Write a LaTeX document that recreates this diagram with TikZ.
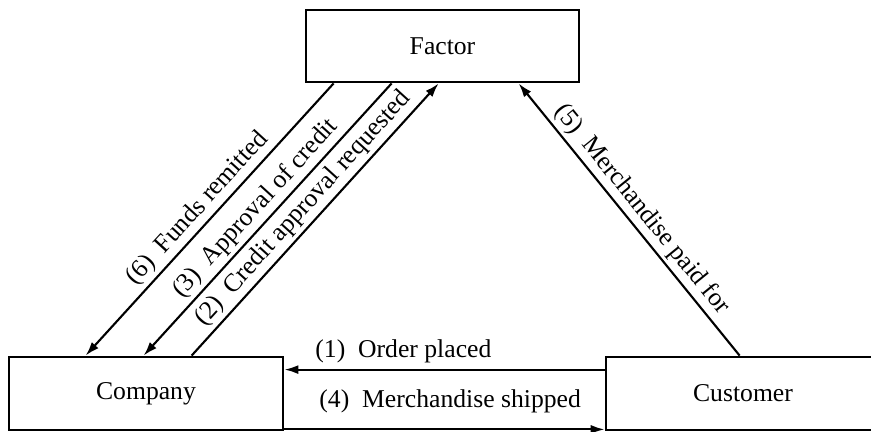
\documentclass[tikz,border=0pt]{standalone}
\usepackage{fontspec}
\setmainfont{Liberation Serif}
\usetikzlibrary{arrows.meta, calc}

\begin{document}
\begin{tikzpicture}[x=0.02cm, y=-0.02cm,
    box/.style={rectangle, draw, line width=1.6pt,
                minimum width=5.48cm, minimum height=1.46cm,
                font=\fontsize{14.6}{17}\selectfont},
    flow/.style={-{Latex[length=2.8mm, width=1.8mm]}, line width=1.2pt},
    lbl/.style={font=\fontsize{14.6}{17}\selectfont, inner sep=2pt}]
    \useasboundingbox (0,0) rectangle (871,432);

    % Factor, Company and Customer
    \node[box, minimum width=5.46cm, minimum height=1.44cm] (factor) at (442.5,46) {Factor};
    \node[box] (company) at (146,393.5) {Company};
    \node[box] (customer) at (743,393.5) {Customer};

    % Company and Customer
    \draw[flow] ($(customer.north west)+(0,14)$) -- ($(company.north east)+(0,14)$)
        node[lbl, pos=1, anchor=south west, xshift=0.53cm, yshift=1pt] {(1)\enspace Order placed};
    \draw[flow] ($(company.south east)+(0,-2)$) -- ($(customer.south west)+(0,-2)$)
        node[lbl, pos=0, anchor=south west, xshift=0.61cm, yshift=7pt] {(4)\enspace Merchandise shipped};

    % Company and Factor
    \draw[flow] ($(factor.south west)+(29,0)$) -- ($(company.north west)+(78,0)$)
        node[lbl, midway, above, sloped] {(6)\enspace Funds remitted};
    \draw[flow] ($(factor.south west)+(87,0)$) -- ($(company.north west)+(136,0)$)
        node[lbl, midway, above, sloped] {(3)\enspace Approval of credit};
    \draw[flow] ($(company.north west)+(184,0)$) -- ($(factor.south west)+(134,0)$)
        node[lbl, midway, above, sloped] {(2)\enspace Credit approval requested};

    % Customer and Factor
    \draw[flow] ($(customer.north west)+(135,0)$) -- ($(factor.south west)+(214,0)$)
        node[lbl, midway, above, sloped] {(5)\enspace Merchandise paid for};
\end{tikzpicture}
\end{document}
